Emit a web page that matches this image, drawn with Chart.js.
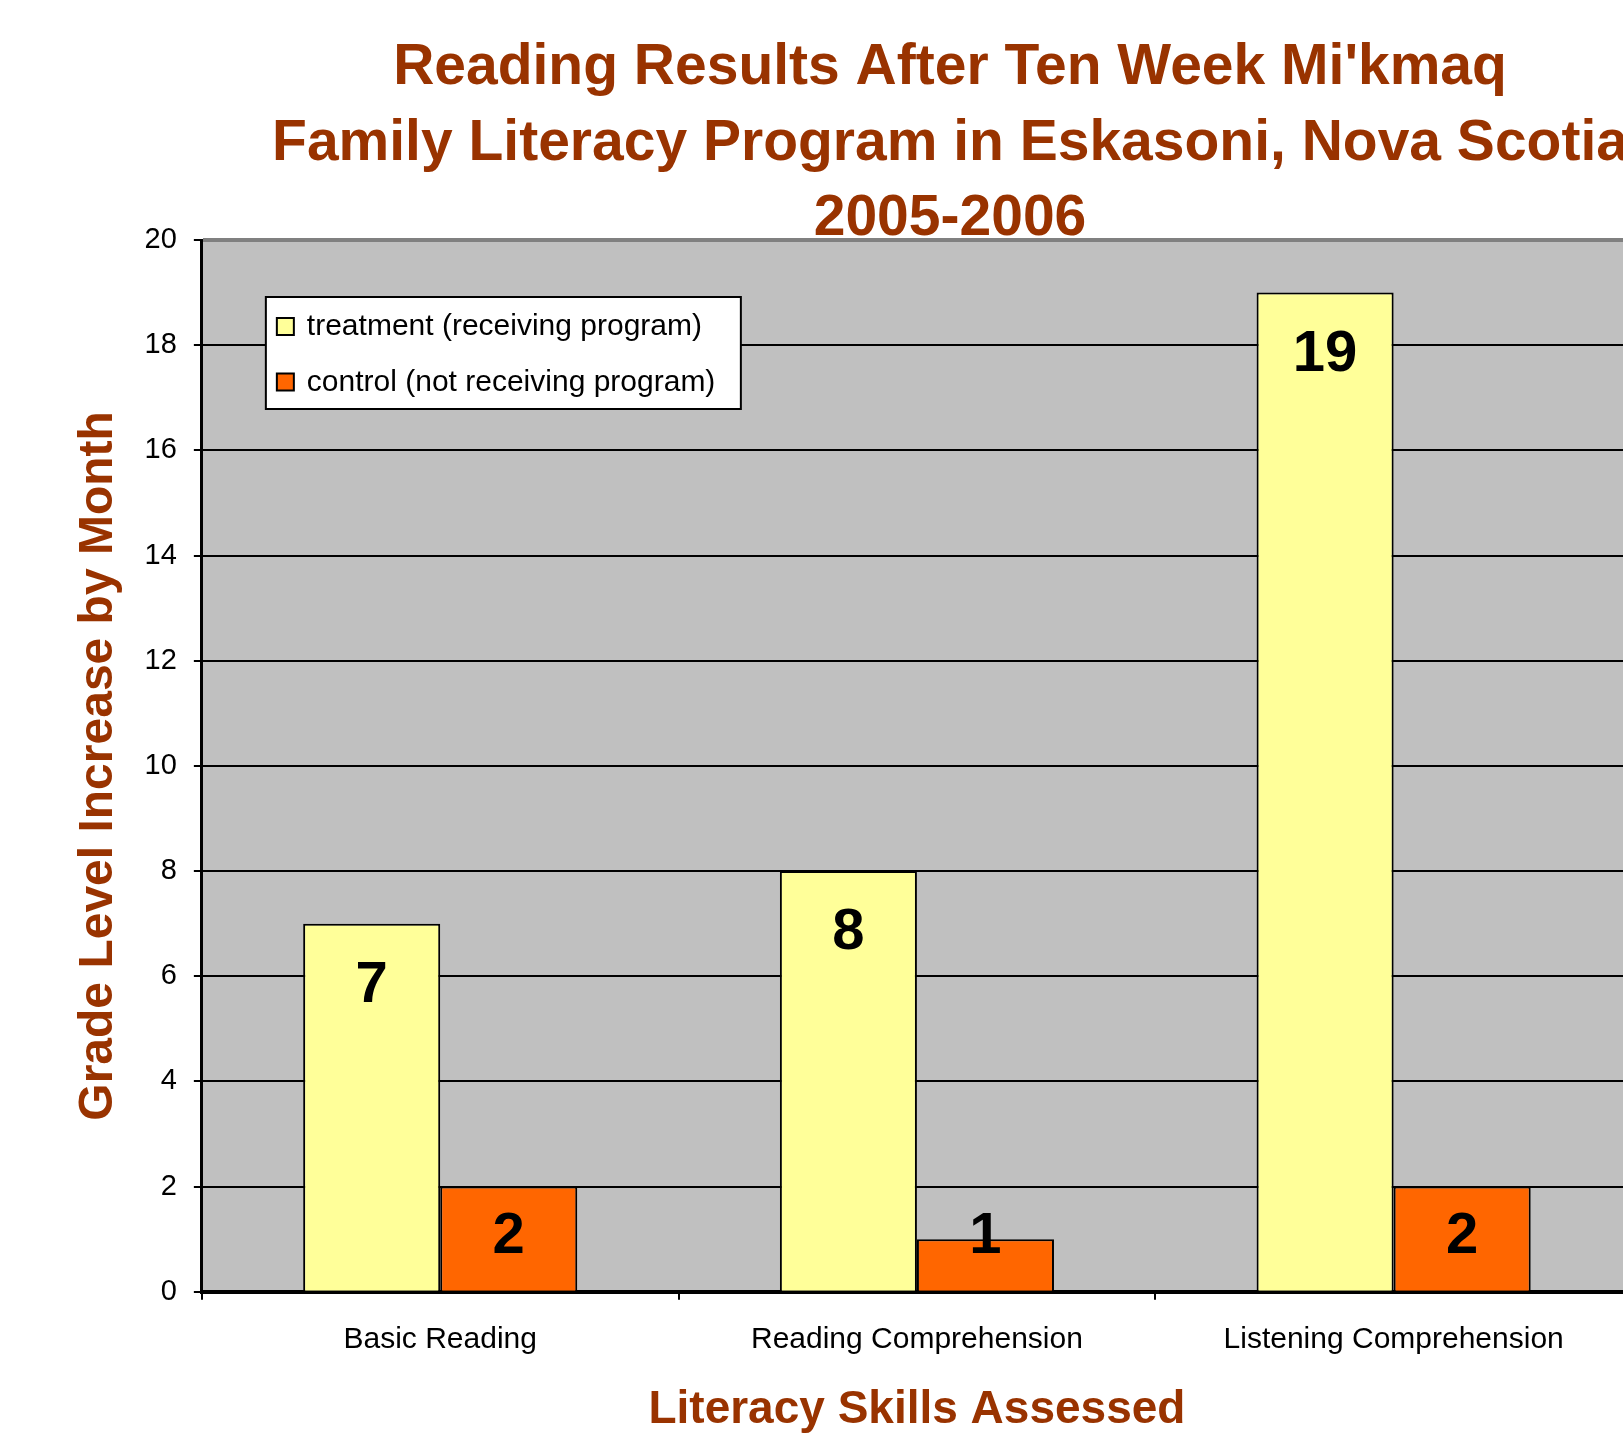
<!DOCTYPE html>
<html>
<head>
<meta charset="utf-8">
<script src="https://cdn.jsdelivr.net/npm/chart.js"></script>
<style>
  html, body { margin: 0; padding: 0; background: #fff; overflow: hidden; }
  #wrap { width: 1640px; height: 1438px; }
</style>
</head>
<body>
<div id="wrap"><canvas id="readingChart" width="1640" height="1438"></canvas></div>

<script>
  // data
  const categories = ['Basic Reading', 'Reading Comprehension', 'Listening Comprehension'];
  const treatment = [7, 8, 19];
  const control = [2, 1, 2];
  const seriesNames = ['treatment (receiving program)', 'control (not receiving program)'];
  const titleLines = ["Reading Results After Ten Week Mi'kmaq", 'Family Literacy Program in Eskasoni, Nova Scotia', '2005-2006'];
  const xTitle = 'Literacy Skills Assessed';
  const yTitle = 'Grade Level Increase by Month';

  const FONT = "'Liberation Sans', Arial, sans-serif";
  const BROWN = '#993300';

  // three line title, centred a bit right of the plot like the original
  const titlePlugin = {
    id: 'titleLines',
    afterDraw(chart) {
      const ctx = chart.ctx;
      ctx.save();
      ctx.font = 'bold 57px ' + FONT;
      ctx.fillStyle = BROWN;
      ctx.textAlign = 'center';
      ctx.textBaseline = 'alphabetic';
      titleLines.forEach((line, i) => {
        ctx.fillText(line, 950, 84 + i * 75.5);
      });
      ctx.restore();
    }
  };

  // value labels inside the top of each bar
  const valueLabels = {
    id: 'valueLabels',
    afterDatasetsDraw(chart) {
      const ctx = chart.ctx;
      ctx.save();
      ctx.font = 'bold 58px ' + FONT;
      ctx.fillStyle = '#000';
      ctx.textAlign = 'center';
      ctx.textBaseline = 'middle';
      chart.data.datasets.forEach((ds, di) => {
        chart.getDatasetMeta(di).data.forEach((bar, i) => {
          const y = Math.min(bar.y + 62, bar.base - 54);
          ctx.fillText(String(ds.data[i]), bar.x, y);
        });
      });
      ctx.restore();
    }
  };

  // boxed legend inside the plot area
  const boxLegend = {
    id: 'boxLegend',
    afterDraw(chart) {
      const ctx = chart.ctx;
      const a = chart.chartArea;
      const bx = a.left + 64, by = a.top + 57, bw = 475, bh = 112;
      ctx.save();
      ctx.fillStyle = '#fff';
      ctx.fillRect(bx, by, bw, bh);
      ctx.strokeStyle = '#000';
      ctx.lineWidth = 2;
      ctx.strokeRect(bx, by, bw, bh);
      ctx.font = '30px ' + FONT;
      ctx.textAlign = 'left';
      ctx.textBaseline = 'middle';
      chart.data.datasets.forEach((ds, i) => {
        const cy = by + 30 + i * 55.5;
        ctx.fillStyle = ds.backgroundColor;
        ctx.fillRect(bx + 11, cy - 9, 17, 17);
        ctx.strokeRect(bx + 11, cy - 9, 17, 17);
        ctx.fillStyle = '#000';
        ctx.fillText(ds.label, bx + 41, cy);
      });
      ctx.restore();
    }
  };

  const ctx = document.getElementById('readingChart').getContext('2d');

  new Chart(ctx, {
    type: 'bar',
    data: {
      labels: categories,
      datasets: [
        {
          label: seriesNames[0],
          data: treatment,
          backgroundColor: '#FFFF99',
          borderColor: '#000',
          borderWidth: 2,
          borderSkipped: 'bottom'
        },
        {
          label: seriesNames[1],
          data: control,
          backgroundColor: '#FF6600',
          borderColor: '#000',
          borderWidth: 2,
          borderSkipped: 'bottom'
        }
      ]
    },
    options: {
      responsive: false,
      animation: false,
      devicePixelRatio: 1,
      categoryPercentage: 0.575,
      barPercentage: 1,
      layout: { padding: { top: 240, left: 48, right: 8, bottom: 0 } },
      plugins: {
        legend: { display: false },
        title: { display: false },
        tooltip: { enabled: false }
      },
      scales: {
        x: {
          offset: true,
          grid: {
            offset: true,
            drawOnChartArea: false,
            drawTicks: true,
            tickLength: 8,
            color: '#000',
            lineWidth: 2
          },
          border: { color: '#000', width: 4 },
          ticks: {
            color: '#000',
            padding: 22,
            font: { family: FONT, size: 30 }
          },
          title: {
            display: true,
            text: xTitle,
            color: BROWN,
            padding: { top: 3, bottom: 0 },
            font: { family: FONT, size: 46, weight: 'bold' }
          }
        },
        y: {
          min: 0,
          max: 20,
          ticks: {
            stepSize: 2,
            color: '#000',
            padding: 17,
            font: { family: FONT, size: 29 }
          },
          grid: {
            color: c => (c.tick && c.tick.value === 20 ? '#808080' : '#000'),
            lineWidth: c => (c.tick && c.tick.value === 20 ? 4 : 2),
            tickColor: '#000',
            tickWidth: 2,
            tickLength: 8
          },
          border: { color: '#000', width: 3 },
          title: {
            display: true,
            text: yTitle,
            color: BROWN,
            padding: { top: 22, bottom: 0 },
            font: { family: FONT, size: 48, weight: 'bold' }
          }
        }
      }
    },
    plugins: [
      {
        id: 'plotBg',
        beforeDraw(chart) {
          const a = chart.chartArea;
          chart.ctx.save();
          chart.ctx.fillStyle = '#C0C0C0';
          chart.ctx.fillRect(a.left, a.top, a.right - a.left, a.bottom - a.top);
          chart.ctx.restore();
        }
      },
      valueLabels,
      boxLegend,
      titlePlugin
    ]
  });
</script>
</body>
</html>
